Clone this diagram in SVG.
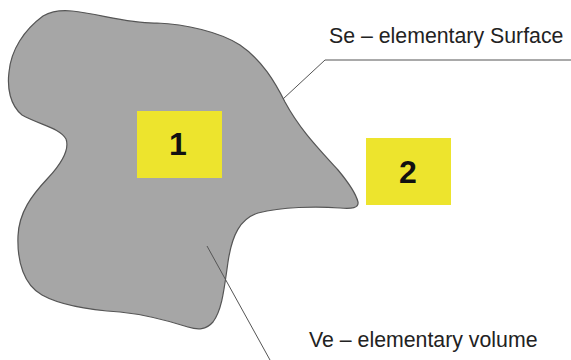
<svg xmlns="http://www.w3.org/2000/svg" width="571" height="360" viewBox="0 0 571 360">
<style>
.lbl{font-family:"Liberation Sans",Arial,sans-serif;font-size:21.3px;fill:#222}
.num{font-family:"Liberation Sans",Arial,sans-serif;font-size:32px;font-weight:bold;fill:#111;text-anchor:middle}
.box{fill:#ede42d}
.conn{stroke:#555;stroke-width:1;fill:none}
</style>
<rect width="571" height="360" fill="#fff"/>
<g id="volume">
<path d="M43,16 C52,11 62,10 72,11 C100,14 130,24 157,23 C185,24 220,32 240,45 C262,60 275,82 285,102 C300,130 320,150 338,170 C348,182 356,194 358,202 C359,208 352,209 340,208 C315,206 282,207 258,213 C240,219 232,235 228,262 C224,290 222,310 213,322 C206,330 198,330 188,327 C172,322 150,315 120,312 C90,310 60,305 42,295 C24,285 17,262 18,236 C19,212 32,195 48,178 C60,165 70,150 66,139 C60,128 40,125 22,115 C10,105 7,88 9,72 C11,50 24,30 43,16 Z" fill="#a6a6a6" stroke="#555" stroke-width="1.2"/>
</g>
<g id="connectors">
<polyline class="conn" points="283,99 325,60 571,60"/>
<line class="conn" x1="207" y1="246" x2="270" y2="360"/>
</g>
<g id="box1">
<rect class="box" x="137" y="111" width="85" height="67"/>
<text class="num" x="178" y="155">1</text>
</g>
<g id="box2">
<rect class="box" x="366" y="138" width="85" height="67"/>
<text class="num" x="408" y="183">2</text>
</g>
<g id="label-se">
<text class="lbl" x="329" y="43">Se – elementary Surface</text>
</g>
<g id="label-ve">
<text class="lbl" x="309" y="347">Ve – elementary volume</text>
</g>
</svg>
